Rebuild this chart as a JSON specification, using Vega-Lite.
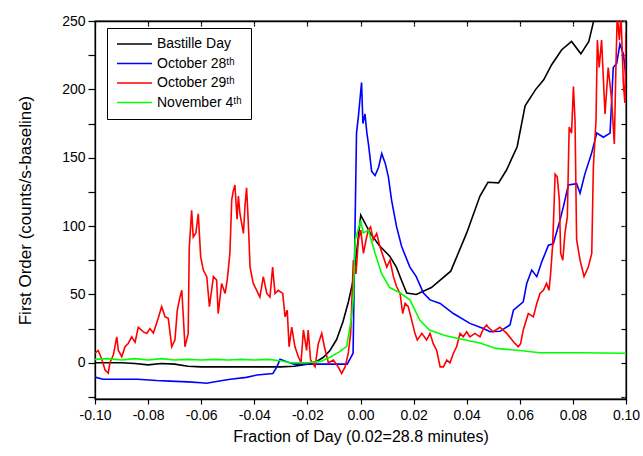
{
  "$schema": "https://vega.github.io/schema/vega-lite/v6.json",
  "width": 531,
  "height": 378,
  "autosize": "none",
  "padding": {"left": 95, "top": 21, "right": 17, "bottom": 57},
  "config": {
    "locale": {"number": {"decimal": ".", "thousands": ",", "grouping": [3], "currency": ["$", ""], "minus": "-"}},
    "view": {"stroke": "#000", "strokeWidth": 1.3},
    "font": "Liberation Sans",
    "legend": {"strokeColor": "#000", "fillColor": "#fff", "cornerRadius": 0},
    "axis": {"grid": false, "domainColor": "#000", "domainWidth": 1.3, "tickColor": "#000", "tickWidth": 1.2, "labelColor": "#000", "titleColor": "#000", "labelFont": "Liberation Sans", "titleFont": "Liberation Sans", "labelFontSize": 14, "titleFontSize": 16.5, "titleFontWeight": "normal"}
  },
  "data": {"values": [
    {"s":"Bastille Day","x":-0.1,"y":0},{"s":"Bastille Day","x":-0.09,"y":0},{"s":"Bastille Day","x":-0.085,"y":-0.5},{"s":"Bastille Day","x":-0.08,"y":-1.5},{"s":"Bastille Day","x":-0.075,"y":-0.5},{"s":"Bastille Day","x":-0.07,"y":-1},{"s":"Bastille Day","x":-0.065,"y":-2.5},{"s":"Bastille Day","x":-0.06,"y":-3},{"s":"Bastille Day","x":-0.05,"y":-3},{"s":"Bastille Day","x":-0.04,"y":-3},{"s":"Bastille Day","x":-0.03,"y":-3},{"s":"Bastille Day","x":-0.025,"y":-2.5},{"s":"Bastille Day","x":-0.02,"y":-1},{"s":"Bastille Day","x":-0.0165,"y":1},{"s":"Bastille Day","x":-0.014,"y":4},{"s":"Bastille Day","x":-0.0115,"y":9},{"s":"Bastille Day","x":-0.009,"y":17},{"s":"Bastille Day","x":-0.0066,"y":30},{"s":"Bastille Day","x":-0.0045,"y":45},{"s":"Bastille Day","x":-0.0028,"y":60},{"s":"Bastille Day","x":-0.0015,"y":80},{"s":"Bastille Day","x":0.0001,"y":108},{"s":"Bastille Day","x":0.0036,"y":95},{"s":"Bastille Day","x":0.007,"y":86},{"s":"Bastille Day","x":0.011,"y":78},{"s":"Bastille Day","x":0.0135,"y":70},{"s":"Bastille Day","x":0.0155,"y":60},{"s":"Bastille Day","x":0.0174,"y":51},{"s":"Bastille Day","x":0.021,"y":50},{"s":"Bastille Day","x":0.0267,"y":55},{"s":"Bastille Day","x":0.034,"y":67},{"s":"Bastille Day","x":0.04,"y":95},{"s":"Bastille Day","x":0.045,"y":122},{"s":"Bastille Day","x":0.048,"y":132},{"s":"Bastille Day","x":0.052,"y":131.6},{"s":"Bastille Day","x":0.055,"y":141},{"s":"Bastille Day","x":0.059,"y":158},{"s":"Bastille Day","x":0.062,"y":188},{"s":"Bastille Day","x":0.066,"y":200},{"s":"Bastille Day","x":0.069,"y":207},{"s":"Bastille Day","x":0.072,"y":218},{"s":"Bastille Day","x":0.0758,"y":229},{"s":"Bastille Day","x":0.0795,"y":235},{"s":"Bastille Day","x":0.083,"y":226},{"s":"Bastille Day","x":0.086,"y":235},{"s":"Bastille Day","x":0.0877,"y":249},{"s":"Bastille Day","x":0.089,"y":262},
    {"s":"October 28ᵗʰ","x":-0.1,"y":-10.5},{"s":"October 28ᵗʰ","x":-0.097,"y":-12},{"s":"October 28ᵗʰ","x":-0.09,"y":-12},{"s":"October 28ᵗʰ","x":-0.084,"y":-12},{"s":"October 28ᵗʰ","x":-0.0768,"y":-13},{"s":"October 28ᵗʰ","x":-0.0717,"y":-13.4},{"s":"October 28ᵗʰ","x":-0.065,"y":-14},{"s":"October 28ᵗʰ","x":-0.06,"y":-14.6},{"s":"October 28ᵗʰ","x":-0.058,"y":-15},{"s":"October 28ᵗʰ","x":-0.052,"y":-13},{"s":"October 28ᵗʰ","x":-0.049,"y":-12},{"s":"October 28ᵗʰ","x":-0.043,"y":-10.7},{"s":"October 28ᵗʰ","x":-0.039,"y":-9},{"s":"October 28ᵗʰ","x":-0.033,"y":-7.8},{"s":"October 28ᵗʰ","x":-0.0315,"y":-3},{"s":"October 28ᵗʰ","x":-0.0303,"y":2.5},{"s":"October 28ᵗʰ","x":-0.0278,"y":0.7},{"s":"October 28ᵗʰ","x":-0.025,"y":-1},{"s":"October 28ᵗʰ","x":-0.015,"y":-1},{"s":"October 28ᵗʰ","x":-0.005,"y":-1},{"s":"October 28ᵗʰ","x":-0.0028,"y":7},{"s":"October 28ᵗʰ","x":-0.0015,"y":168},{"s":"October 28ᵗʰ","x":-0.0008,"y":180},{"s":"October 28ᵗʰ","x":0.0004,"y":205},{"s":"October 28ᵗʰ","x":0.0009,"y":175},{"s":"October 28ᵗʰ","x":0.0017,"y":182},{"s":"October 28ᵗʰ","x":0.0024,"y":168},{"s":"October 28ᵗʰ","x":0.003,"y":160},{"s":"October 28ᵗʰ","x":0.0042,"y":140},{"s":"October 28ᵗʰ","x":0.0055,"y":137},{"s":"October 28ᵗʰ","x":0.0068,"y":143},{"s":"October 28ᵗʰ","x":0.008,"y":153},{"s":"October 28ᵗʰ","x":0.0093,"y":146},{"s":"October 28ᵗʰ","x":0.0105,"y":136},{"s":"October 28ᵗʰ","x":0.0117,"y":119},{"s":"October 28ᵗʰ","x":0.0136,"y":99.4},{"s":"October 28ᵗʰ","x":0.0155,"y":85},{"s":"October 28ᵗʰ","x":0.0186,"y":70},{"s":"October 28ᵗʰ","x":0.021,"y":63},{"s":"October 28ᵗʰ","x":0.0237,"y":51},{"s":"October 28ᵗʰ","x":0.0262,"y":46},{"s":"October 28ᵗʰ","x":0.03,"y":43.4},{"s":"October 28ᵗʰ","x":0.035,"y":36},{"s":"October 28ᵗʰ","x":0.0412,"y":28.8},{"s":"October 28ᵗʰ","x":0.0463,"y":25},{"s":"October 28ᵗʰ","x":0.0488,"y":22.7},{"s":"October 28ᵗʰ","x":0.0525,"y":23},{"s":"October 28ᵗʰ","x":0.0563,"y":27.6},{"s":"October 28ᵗʰ","x":0.0576,"y":38.5},{"s":"October 28ᵗʰ","x":0.0613,"y":44.6},{"s":"October 28ᵗʰ","x":0.0626,"y":58},{"s":"October 28ᵗʰ","x":0.0645,"y":67.8},{"s":"October 28ᵗʰ","x":0.0664,"y":63},{"s":"October 28ᵗʰ","x":0.0683,"y":74},{"s":"October 28ᵗʰ","x":0.0708,"y":86},{"s":"October 28ᵗʰ","x":0.0726,"y":87},{"s":"October 28ᵗʰ","x":0.0751,"y":104},{"s":"October 28ᵗʰ","x":0.0764,"y":114},{"s":"October 28ᵗʰ","x":0.0783,"y":130},{"s":"October 28ᵗʰ","x":0.0814,"y":131},{"s":"October 28ᵗʰ","x":0.0827,"y":124},{"s":"October 28ᵗʰ","x":0.0845,"y":138},{"s":"October 28ᵗʰ","x":0.087,"y":153},{"s":"October 28ᵗʰ","x":0.089,"y":168},{"s":"October 28ᵗʰ","x":0.0915,"y":165},{"s":"October 28ᵗʰ","x":0.094,"y":168},{"s":"October 28ᵗʰ","x":0.0952,"y":216},{"s":"October 28ᵗʰ","x":0.0965,"y":219},{"s":"October 28ᵗʰ","x":0.0977,"y":233},{"s":"October 28ᵗʰ","x":0.099,"y":226},{"s":"October 28ᵗʰ","x":0.1,"y":209},
    {"s":"October 29ᵗʰ","x":-0.1,"y":7},{"s":"October 29ᵗʰ","x":-0.0988,"y":9},{"s":"October 29ᵗʰ","x":-0.0975,"y":3},{"s":"October 29ᵗʰ","x":-0.0962,"y":-5.3},{"s":"October 29ᵗʰ","x":-0.095,"y":-7.6},{"s":"October 29ᵗʰ","x":-0.0944,"y":0},{"s":"October 29ᵗʰ","x":-0.0931,"y":5.6},{"s":"October 29ᵗʰ","x":-0.0918,"y":19},{"s":"October 29ᵗʰ","x":-0.0912,"y":9},{"s":"October 29ᵗʰ","x":-0.0899,"y":4.4},{"s":"October 29ᵗʰ","x":-0.0887,"y":11.7},{"s":"October 29ᵗʰ","x":-0.0875,"y":14},{"s":"October 29ᵗʰ","x":-0.0862,"y":19},{"s":"October 29ᵗʰ","x":-0.0849,"y":15},{"s":"October 29ᵗʰ","x":-0.0837,"y":26},{"s":"October 29ᵗʰ","x":-0.0818,"y":22.6},{"s":"October 29ᵗʰ","x":-0.0805,"y":21.5},{"s":"October 29ᵗʰ","x":-0.0793,"y":25},{"s":"October 29ᵗʰ","x":-0.078,"y":21.7},{"s":"October 29ᵗʰ","x":-0.0762,"y":32.5},{"s":"October 29ᵗʰ","x":-0.0749,"y":41},{"s":"October 29ᵗʰ","x":-0.0736,"y":33.6},{"s":"October 29ᵗʰ","x":-0.0724,"y":32.5},{"s":"October 29ᵗʰ","x":-0.0711,"y":11.7},{"s":"October 29ᵗʰ","x":-0.0699,"y":16.6},{"s":"October 29ᵗʰ","x":-0.069,"y":38.5},{"s":"October 29ᵗʰ","x":-0.068,"y":48},{"s":"October 29ᵗʰ","x":-0.0673,"y":53},{"s":"October 29ᵗʰ","x":-0.0661,"y":11.7},{"s":"October 29ᵗʰ","x":-0.0649,"y":21.5},{"s":"October 29ᵗʰ","x":-0.0645,"y":84},{"s":"October 29ᵗʰ","x":-0.0636,"y":111.6},{"s":"October 29ᵗʰ","x":-0.063,"y":92},{"s":"October 29ᵗʰ","x":-0.062,"y":95},{"s":"October 29ᵗʰ","x":-0.0611,"y":109},{"s":"October 29ᵗʰ","x":-0.0602,"y":77.5},{"s":"October 29ᵗʰ","x":-0.0592,"y":67.8},{"s":"October 29ᵗʰ","x":-0.0579,"y":63},{"s":"October 29ᵗʰ","x":-0.0569,"y":41},{"s":"October 29ᵗʰ","x":-0.0554,"y":63},{"s":"October 29ᵗʰ","x":-0.0542,"y":60.5},{"s":"October 29ᵗʰ","x":-0.0536,"y":36},{"s":"October 29ᵗʰ","x":-0.0523,"y":58},{"s":"October 29ᵗʰ","x":-0.051,"y":50.7},{"s":"October 29ᵗʰ","x":-0.0502,"y":60.5},{"s":"October 29ᵗʰ","x":-0.0492,"y":80},{"s":"October 29ᵗʰ","x":-0.0485,"y":119},{"s":"October 29ᵗʰ","x":-0.048,"y":125},{"s":"October 29ᵗʰ","x":-0.0473,"y":130},{"s":"October 29ᵗʰ","x":-0.0465,"y":105},{"s":"October 29ᵗʰ","x":-0.046,"y":122},{"s":"October 29ᵗʰ","x":-0.0454,"y":109},{"s":"October 29ᵗʰ","x":-0.0441,"y":94.6},{"s":"October 29ᵗʰ","x":-0.0435,"y":115},{"s":"October 29ᵗʰ","x":-0.0429,"y":128},{"s":"October 29ᵗʰ","x":-0.0422,"y":100},{"s":"October 29ᵗʰ","x":-0.0416,"y":70},{"s":"October 29ᵗʰ","x":-0.0404,"y":58},{"s":"October 29ᵗʰ","x":-0.0391,"y":53},{"s":"October 29ᵗʰ","x":-0.0379,"y":48},{"s":"October 29ᵗʰ","x":-0.0366,"y":63},{"s":"October 29ᵗʰ","x":-0.0353,"y":50.7},{"s":"October 29ᵗʰ","x":-0.0341,"y":48},{"s":"October 29ᵗʰ","x":-0.0331,"y":70},{"s":"October 29ᵗʰ","x":-0.0322,"y":50.7},{"s":"October 29ᵗʰ","x":-0.031,"y":53},{"s":"October 29ᵗʰ","x":-0.0293,"y":50.7},{"s":"October 29ᵗʰ","x":-0.0284,"y":33.6},{"s":"October 29ᵗʰ","x":-0.0276,"y":38.5},{"s":"October 29ᵗʰ","x":-0.0269,"y":11.7},{"s":"October 29ᵗʰ","x":-0.0259,"y":26},{"s":"October 29ᵗʰ","x":-0.0247,"y":11.7},{"s":"October 29ᵗʰ","x":-0.0234,"y":4.4},{"s":"October 29ᵗʰ","x":-0.0224,"y":0},{"s":"October 29ᵗʰ","x":-0.0215,"y":24},{"s":"October 29ᵗʰ","x":-0.0203,"y":9},{"s":"October 29ᵗʰ","x":-0.0197,"y":24},{"s":"October 29ᵗʰ","x":-0.0188,"y":2},{"s":"October 29ᵗʰ","x":-0.0171,"y":-3},{"s":"October 29ᵗʰ","x":-0.0159,"y":14},{"s":"October 29ᵗʰ","x":-0.0146,"y":21.5},{"s":"October 29ᵗʰ","x":-0.0136,"y":11.7},{"s":"October 29ᵗʰ","x":-0.0121,"y":0},{"s":"October 29ᵗʰ","x":-0.0102,"y":2},{"s":"October 29ᵗʰ","x":-0.0084,"y":-3},{"s":"October 29ᵗʰ","x":-0.0071,"y":-7.8},{"s":"October 29ᵗʰ","x":-0.0058,"y":-3},{"s":"October 29ᵗʰ","x":-0.0046,"y":7},{"s":"October 29ᵗʰ","x":-0.0037,"y":21.7},{"s":"October 29ᵗʰ","x":-0.0027,"y":75},{"s":"October 29ᵗʰ","x":-0.0017,"y":65},{"s":"October 29ᵗʰ","x":-0.0008,"y":90},{"s":"October 29ᵗʰ","x":0.0001,"y":97},{"s":"October 29ᵗʰ","x":0.0011,"y":80},{"s":"October 29ᵗʰ","x":0.0021,"y":90},{"s":"October 29ᵗʰ","x":0.0029,"y":97},{"s":"October 29ᵗʰ","x":0.0038,"y":99.4},{"s":"October 29ᵗʰ","x":0.0048,"y":90},{"s":"October 29ᵗʰ","x":0.0061,"y":94.6},{"s":"October 29ᵗʰ","x":0.0073,"y":85},{"s":"October 29ᵗʰ","x":0.0086,"y":77.5},{"s":"October 29ᵗʰ","x":0.0099,"y":70},{"s":"October 29ᵗʰ","x":0.0111,"y":75},{"s":"October 29ᵗʰ","x":0.0124,"y":63},{"s":"October 29ᵗʰ","x":0.0136,"y":55.6},{"s":"October 29ᵗʰ","x":0.0149,"y":50.7},{"s":"October 29ᵗʰ","x":0.0159,"y":36},{"s":"October 29ᵗʰ","x":0.0168,"y":43.4},{"s":"October 29ᵗʰ","x":0.018,"y":41},{"s":"October 29ᵗʰ","x":0.0193,"y":31},{"s":"October 29ᵗʰ","x":0.0205,"y":21.5},{"s":"October 29ᵗʰ","x":0.0214,"y":16.6},{"s":"October 29ᵗʰ","x":0.0231,"y":21.5},{"s":"October 29ᵗʰ","x":0.0249,"y":16.6},{"s":"October 29ᵗʰ","x":0.0262,"y":21.5},{"s":"October 29ᵗʰ","x":0.0274,"y":14},{"s":"October 29ᵗʰ","x":0.0287,"y":9},{"s":"October 29ᵗʰ","x":0.03,"y":-3},{"s":"October 29ᵗʰ","x":0.0312,"y":-3},{"s":"October 29ᵗʰ","x":0.0325,"y":2},{"s":"October 29ᵗʰ","x":0.0337,"y":0},{"s":"October 29ᵗʰ","x":0.035,"y":7},{"s":"October 29ᵗʰ","x":0.0362,"y":11.7},{"s":"October 29ᵗʰ","x":0.0375,"y":21.5},{"s":"October 29ᵗʰ","x":0.0387,"y":19},{"s":"October 29ᵗʰ","x":0.04,"y":22.7},{"s":"October 29ᵗʰ","x":0.0412,"y":19},{"s":"October 29ᵗʰ","x":0.0431,"y":21.5},{"s":"October 29ᵗʰ","x":0.045,"y":19},{"s":"October 29ᵗʰ","x":0.0463,"y":25},{"s":"October 29ᵗʰ","x":0.0475,"y":27.6},{"s":"October 29ᵗʰ","x":0.0481,"y":26},{"s":"October 29ᵗʰ","x":0.05,"y":22.7},{"s":"October 29ᵗʰ","x":0.0525,"y":26},{"s":"October 29ᵗʰ","x":0.0551,"y":21.5},{"s":"October 29ᵗʰ","x":0.0576,"y":15.4},{"s":"October 29ᵗʰ","x":0.0594,"y":11.7},{"s":"October 29ᵗʰ","x":0.0603,"y":14},{"s":"October 29ᵗʰ","x":0.0613,"y":24},{"s":"October 29ᵗʰ","x":0.0632,"y":36},{"s":"October 29ᵗʰ","x":0.0651,"y":33.6},{"s":"October 29ᵗʰ","x":0.0664,"y":43.4},{"s":"October 29ᵗʰ","x":0.0676,"y":50.7},{"s":"October 29ᵗʰ","x":0.0689,"y":53},{"s":"October 29ᵗʰ","x":0.0701,"y":58},{"s":"October 29ᵗʰ","x":0.071,"y":53},{"s":"October 29ᵗʰ","x":0.0716,"y":65},{"s":"October 29ᵗʰ","x":0.0724,"y":87},{"s":"October 29ᵗʰ","x":0.0733,"y":138},{"s":"October 29ᵗʰ","x":0.0741,"y":136},{"s":"October 29ᵗʰ","x":0.0749,"y":119},{"s":"October 29ᵗʰ","x":0.0754,"y":80},{"s":"October 29ᵗʰ","x":0.0762,"y":75},{"s":"October 29ᵗʰ","x":0.077,"y":94.6},{"s":"October 29ᵗʰ","x":0.0779,"y":106.7},{"s":"October 29ᵗʰ","x":0.0786,"y":172.5},{"s":"October 29ᵗʰ","x":0.0795,"y":168},{"s":"October 29ᵗʰ","x":0.0802,"y":202},{"s":"October 29ᵗʰ","x":0.0808,"y":177},{"s":"October 29ᵗʰ","x":0.0814,"y":90},{"s":"October 29ᵗʰ","x":0.0827,"y":75},{"s":"October 29ᵗʰ","x":0.0842,"y":63},{"s":"October 29ᵗʰ","x":0.0858,"y":70},{"s":"October 29ᵗʰ","x":0.0871,"y":80},{"s":"October 29ᵗʰ","x":0.0877,"y":143},{"s":"October 29ᵗʰ","x":0.0887,"y":177},{"s":"October 29ᵗʰ","x":0.0892,"y":236},{"s":"October 29ᵗʰ","x":0.0899,"y":216},{"s":"October 29ᵗʰ","x":0.0908,"y":236},{"s":"October 29ᵗʰ","x":0.0921,"y":182},{"s":"October 29ᵗʰ","x":0.0933,"y":216},{"s":"October 29ᵗʰ","x":0.0946,"y":192},{"s":"October 29ᵗʰ","x":0.0956,"y":160},{"s":"October 29ᵗʰ","x":0.0962,"y":216},{"s":"October 29ᵗʰ","x":0.0967,"y":255},{"s":"October 29ᵗʰ","x":0.0975,"y":236},{"s":"October 29ᵗʰ","x":0.0981,"y":255},{"s":"October 29ᵗʰ","x":0.099,"y":204},{"s":"October 29ᵗʰ","x":0.0996,"y":190},{"s":"October 29ᵗʰ","x":0.1,"y":241},
    {"s":"November 4ᵗʰ","x":-0.1,"y":2.5},{"s":"November 4ᵗʰ","x":-0.095,"y":3},{"s":"November 4ᵗʰ","x":-0.09,"y":2},{"s":"November 4ᵗʰ","x":-0.085,"y":3},{"s":"November 4ᵗʰ","x":-0.08,"y":2},{"s":"November 4ᵗʰ","x":-0.075,"y":3},{"s":"November 4ᵗʰ","x":-0.07,"y":2},{"s":"November 4ᵗʰ","x":-0.065,"y":2.5},{"s":"November 4ᵗʰ","x":-0.06,"y":2},{"s":"November 4ᵗʰ","x":-0.055,"y":2.5},{"s":"November 4ᵗʰ","x":-0.05,"y":2},{"s":"November 4ᵗʰ","x":-0.045,"y":2.5},{"s":"November 4ᵗʰ","x":-0.04,"y":2},{"s":"November 4ᵗʰ","x":-0.035,"y":2.5},{"s":"November 4ᵗʰ","x":-0.03,"y":1.5},{"s":"November 4ᵗʰ","x":-0.0266,"y":0},{"s":"November 4ᵗʰ","x":-0.02,"y":0},{"s":"November 4ᵗʰ","x":-0.015,"y":1},{"s":"November 4ᵗʰ","x":-0.0115,"y":4},{"s":"November 4ᵗʰ","x":-0.008,"y":8},{"s":"November 4ᵗʰ","x":-0.0052,"y":12},{"s":"November 4ᵗʰ","x":-0.0033,"y":34},{"s":"November 4ᵗʰ","x":-0.0027,"y":48},{"s":"November 4ᵗʰ","x":-0.002,"y":90},{"s":"November 4ᵗʰ","x":0.0001,"y":104},{"s":"November 4ᵗʰ","x":0.001,"y":95},{"s":"November 4ᵗʰ","x":0.003,"y":97},{"s":"November 4ᵗʰ","x":0.0055,"y":80},{"s":"November 4ᵗʰ","x":0.008,"y":65},{"s":"November 4ᵗʰ","x":0.011,"y":55},{"s":"November 4ᵗʰ","x":0.015,"y":51},{"s":"November 4ᵗʰ","x":0.0186,"y":46},{"s":"November 4ᵗʰ","x":0.0224,"y":31},{"s":"November 4ᵗʰ","x":0.026,"y":24},{"s":"November 4ᵗʰ","x":0.0318,"y":20},{"s":"November 4ᵗʰ","x":0.0386,"y":17},{"s":"November 4ᵗʰ","x":0.045,"y":14.4},{"s":"November 4ᵗʰ","x":0.051,"y":10.5},{"s":"November 4ᵗʰ","x":0.06,"y":9},{"s":"November 4ᵗʰ","x":0.0676,"y":7.3},{"s":"November 4ᵗʰ","x":0.083,"y":7.3},{"s":"November 4ᵗʰ","x":0.1,"y":7}
  ]},
  "layer": [
    {
      "mark": {"type": "line", "strokeWidth": 1.6, "clip": true},
      "encoding": {
        "x": {"field": "x", "type": "quantitative", "scale": {"domain": [-0.1, 0.1], "nice": false, "zero": false},
          "axis": {"orient": "bottom", "title": "Fraction of Day (0.02=28.8 minutes)", "titleFontSize": 16, "values": [-0.1,-0.08,-0.06,-0.04,-0.02,0,0.02,0.04,0.06,0.08,0.1], "format": ".2f", "tickSize": 5, "labelPadding": 4, "titlePadding": 6, "labelFlush": false}},
        "y": {"field": "y", "type": "quantitative", "scale": {"domain": [-26.5, 250], "nice": false, "zero": false},
          "axis": {"orient": "left", "title": "First Order (counts/s-baseline)", "titleFontSize": 17, "values": [-25,0,25,50,75,100,125,150,175,200,225,250], "labelExpr": "datum.value % 50 === 0 ? datum.label : ''", "tickSize": 7, "labelPadding": 3, "titlePadding": 27}},
        "color": {"field": "s", "type": "nominal", "sort": null,
          "scale": {"domain": ["Bastille Day", "October 28ᵗʰ", "October 29ᵗʰ", "November 4ᵗʰ"], "range": ["#000000", "#0000ff", "#ff0000", "#00ff00"]},
          "legend": {"title": null, "orient": "none", "legendX": 12, "legendY": 7, "padding": 9, "symbolType": "stroke", "symbolSize": 1225, "clipHeight": 14, "symbolStrokeWidth": 1.5, "labelFontSize": 14, "labelFont": "Liberation Sans", "labelColor": "#000", "labelOffset": 4, "rowPadding": 5.5}}
      }
    },
    {
      "mark": {"type": "point", "opacity": 0, "clip": true},
      "encoding": {
        "x": {"field": "x", "type": "quantitative", "scale": {"domain": [-0.1, 0.1], "nice": false, "zero": false},
          "axis": {"orient": "top", "title": null, "labelColor": "#ffffff", "labelFontSize": 1, "ticks": true, "values": [-0.1,-0.08,-0.06,-0.04,-0.02,0,0.02,0.04,0.06,0.08,0.1], "tickSize": -5}},
        "y": {"field": "y", "type": "quantitative", "scale": {"domain": [-26.5, 250], "nice": false, "zero": false},
          "axis": {"orient": "right", "title": null, "labelColor": "#ffffff", "labelFontSize": 1, "ticks": true, "values": [-25,0,25,50,75,100,125,150,175,200,225,250], "tickSize": -5}}
      }
    }
  ],
  "resolve": {"scale": {"x": "independent", "y": "independent"}}
}
